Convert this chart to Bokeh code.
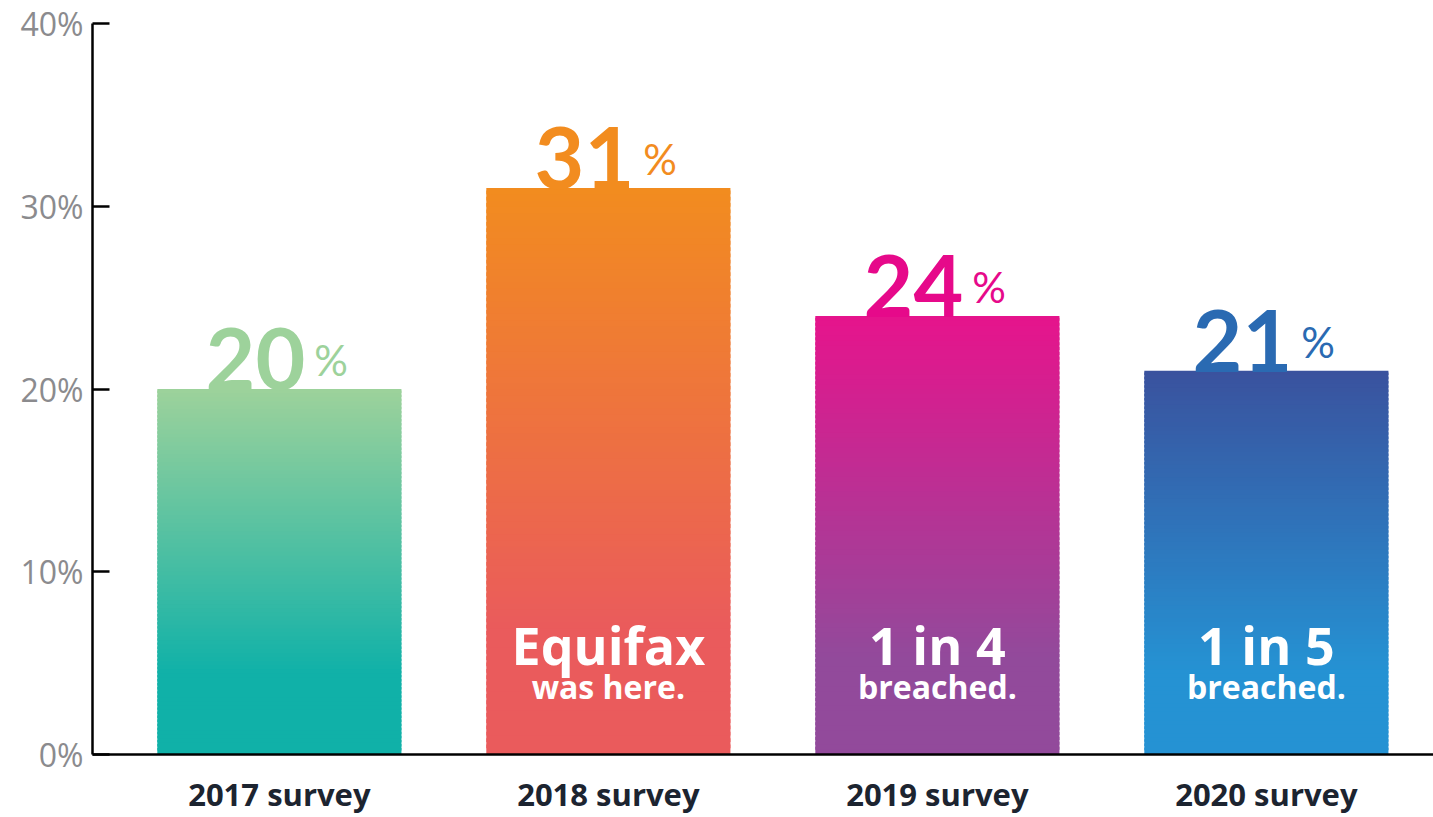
from bokeh.plotting import figure
from bokeh.models import Range1d, FixedTicker, ColumnDataSource
from bokeh.core.properties import value
from bokeh.embed import file_html
from bokeh.resources import INLINE

# ---- data ----
categories = ["2017 survey", "2018 survey", "2019 survey", "2020 survey"]
values = [20, 31, 24, 21]
big_text = ["", "Equifax", "1 in 4", "1 in 5"]
small_text = ["", "was here.", "breached.", "breached."]
top_colors = ["#9dd29b", "#f28c1f", "#e6148c", "#3a529e"]
bottom_colors = ["#10b1a8", "#ea5b5c", "#924a9b", "#2592d3"]
label_colors = ["#9dd29b", "#f28c1f", "#e6098a", "#2a6ab2"]
y_ticks = [0, 10, 20, 30, 40]

NUM_FONT = "Lato"
FONT = "Open Sans"
xs = [i + 1 for i in range(len(categories))]
BAR_W = 0.742

def hex2rgb(h):
    h = h.lstrip("#")
    return tuple(int(h[i:i + 2], 16) for i in (0, 2, 4))

def lerp(c0, c1, t):
    a, b = hex2rgb(c0), hex2rgb(c1)
    return "#%02x%02x%02x" % tuple(int(round(a[k] + (b[k] - a[k]) * t)) for k in range(3))

p = figure(width=1433, height=817, output_backend="svg", toolbar_location=None,
           x_range=Range1d(0.432, 4.508), y_range=Range1d(0, 40),
           min_border_left=92, min_border_right=0, min_border_top=23, min_border_bottom=63)
p.outline_line_color = None
p.grid.grid_line_color = None
p.background_fill_color = "white"
p.border_fill_color = "white"

# gradient bars built from thin slices
N = 90
L, R, B, T, C = [], [], [], [], []
for x, v, ct, cb in zip(xs, values, top_colors, bottom_colors):
    for i in range(N):
        t = (i + 0.5) / N
        s = 0.0 if t < 0.22 else (t - 0.22) / 0.78
        L.append(x - BAR_W / 2)
        R.append(x + BAR_W / 2)
        B.append(v * i / N)
        T.append(min(v, v * (i + 1.6) / N))
        C.append(lerp(cb, ct, s))
p.quad(left=L, right=R, bottom=B, top=T, fill_color=C, line_color=None)

src = ColumnDataSource(dict(x=xs, y=values, num=[str(v) for v in values],
                            pct=["%"] * len(values), col=label_colors,
                            big=big_text, small=small_text, zero=[0] * len(values)))

p.text(x="x", y="y", text="num", source=src, text_color="col",
       text_font=value(NUM_FONT), text_font_style="bold", text_font_size="86px",
       text_align="right", text_baseline="alphabetic", x_offset=26, y_offset=-30)
p.text(x="x", y="y", text="pct", source=src, text_color="col",
       text_font=value(NUM_FONT), text_font_size="42px",
       text_align="left", text_baseline="alphabetic", x_offset=35, y_offset=-29)
p.text(x="x", y="zero", text="big", source=src, text_color="white",
       text_font=value(FONT), text_font_style="bold", text_font_size="52px",
       text_align="center", text_baseline="alphabetic", y_offset=-110)
p.text(x="x", y="zero", text="small", source=src, text_color="white",
       text_font=value(FONT), text_font_style="bold", text_font_size="32px",
       text_align="center", text_baseline="alphabetic", y_offset=-68)

# axes
ya = p.yaxis[0]
ya.ticker = FixedTicker(ticks=y_ticks)
ya.major_label_overrides = {t: f"{t}%" for t in y_ticks}
ya.major_label_text_font = FONT
ya.major_label_text_font_size = "32px"
ya.major_label_text_color = "#8b8b8e"
ya.major_label_standoff = 9
ya.axis_line_color = "black"
ya.axis_line_width = 2.5
ya.major_tick_in = 17
ya.major_tick_out = 0
ya.major_tick_line_color = "black"
ya.major_tick_line_width = 2.5
ya.minor_tick_line_color = None

xa = p.xaxis[0]
xa.ticker = FixedTicker(ticks=xs)
xa.major_label_overrides = {x: c for x, c in zip(xs, categories)}
xa.major_label_text_font = FONT
xa.major_label_text_font_style = "bold"
xa.major_label_text_font_size = "31px"
xa.major_label_text_color = "#1c2430"
xa.major_label_standoff = 12
xa.axis_line_color = "black"
xa.axis_line_width = 2.5
xa.major_tick_line_color = None
xa.minor_tick_line_color = None

open("out.html", "w").write(file_html(p, INLINE))
